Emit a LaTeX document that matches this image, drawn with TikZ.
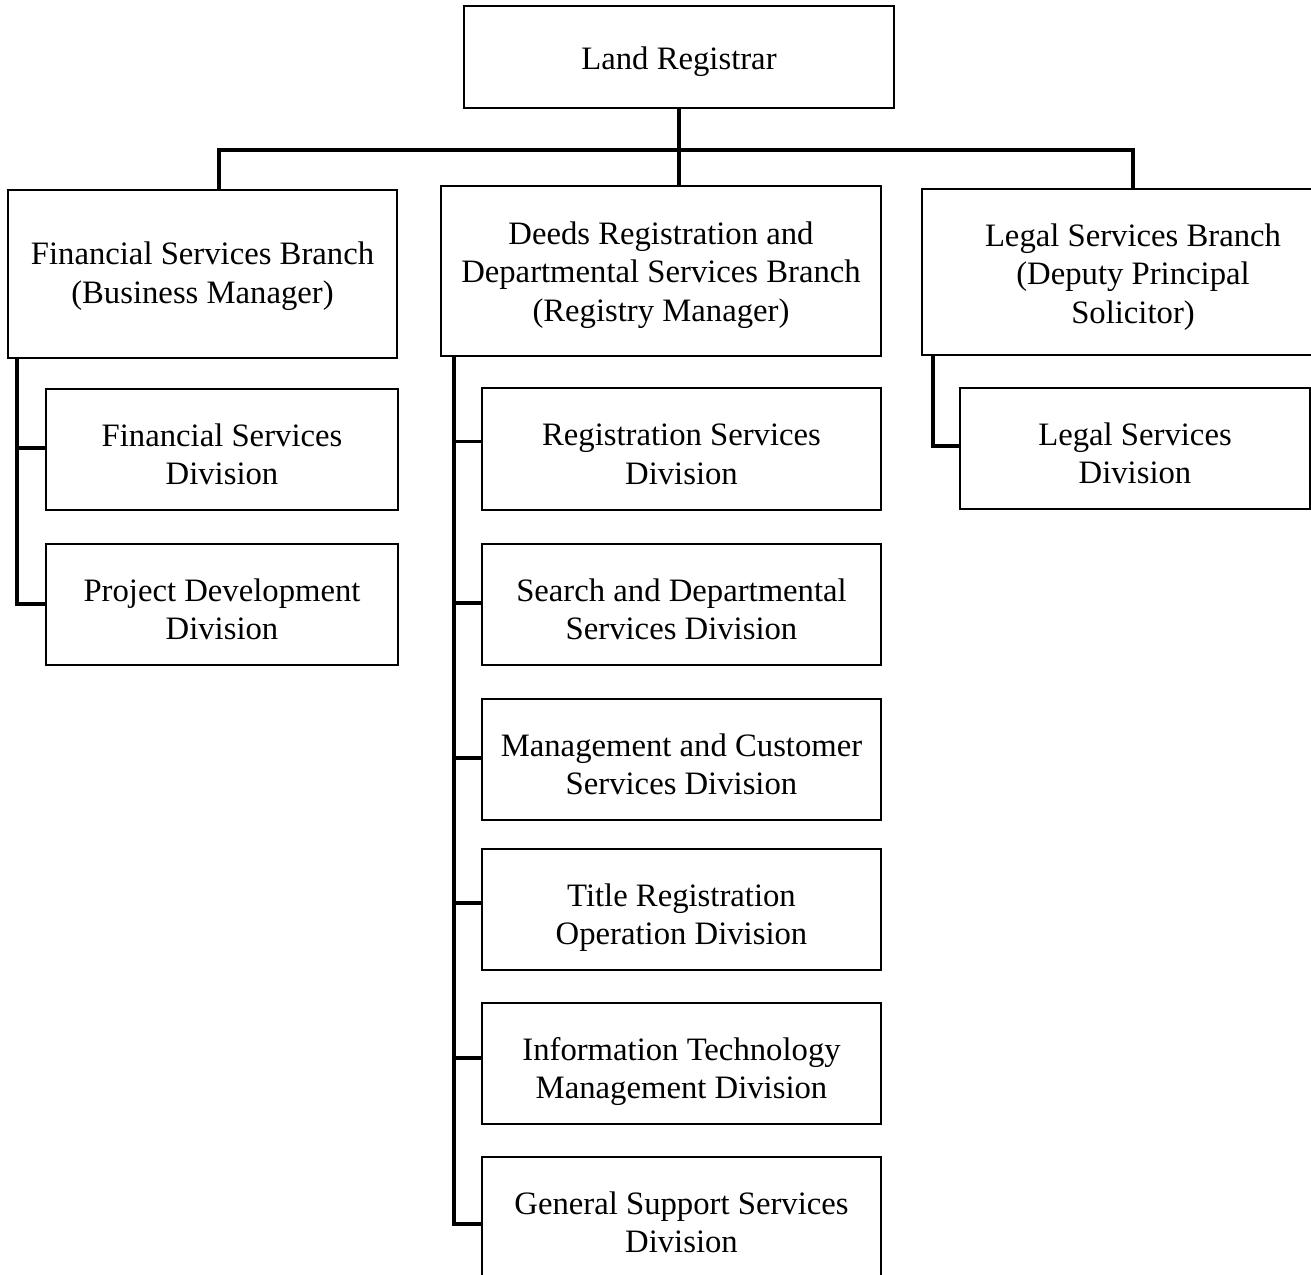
\documentclass[tikz,border=0pt]{standalone}
\usepackage{fontspec}
\setmainfont{Liberation Serif}
\newcommand{\bxt}[2]{\raisebox{-#1pt}[\height][\depth]{\begin{tabular}{@{}c@{}}#2\end{tabular}}}
\begin{document}
\begin{tikzpicture}[x=1pt,y=-1pt,
  box/.style={draw=black,line width=1.6pt,rectangle,align=center,inner sep=0pt,
    font=\fontsize{32.7}{38.5}\selectfont},
  conn/.style={draw=black,line width=3.6pt}]
\useasboundingbox (0,0) rectangle (1311,1274);
\clip (0,0) rectangle (1311,1274);
% top
\node[box,minimum width=430pt,minimum height=102pt] (lr) at (679,57) {\bxt{5}{Land Registrar}};
% branches
\node[box,minimum width=389pt,minimum height=168pt] (fb) at (202.5,274) {\bxt{2.5}{Financial Services Branch\\(Business Manager)}};
\node[box,minimum width=440pt,minimum height=170pt] (dr) at (661,271) {\bxt{4}{Deeds Registration and\\Departmental Services Branch\\(Registry Manager)}};
\node[box,minimum width=422pt,minimum height=166pt] (lb) at (1133,272) {\bxt{5}{Legal Services Branch\\(Deputy Principal\\Solicitor)}};
% financial divisions
\node[box,minimum width=352pt,minimum height=121pt] (fsd) at (222,449.5) {\bxt{8.5}{Financial Services\\Division}};
\node[box,minimum width=352pt,minimum height=121pt] (pdd) at (222,604.5) {\bxt{8.5}{Project Development\\Division}};
% deeds divisions
\node[box,minimum width=399pt,minimum height=122pt] (rsd) at (681.5,449) {\bxt{8.5}{Registration Services\\Division}};
\node[box,minimum width=399pt,minimum height=121pt] (sds) at (681.5,604.5) {\bxt{8.5}{Search and Departmental\\Services Division}};
\node[box,minimum width=399pt,minimum height=121pt] (mcs) at (681.5,759.5) {\bxt{8.5}{Management and Customer\\Services Division}};
\node[box,minimum width=399pt,minimum height=121pt] (tro) at (681.5,909.5) {\bxt{8.5}{Title Registration\\Operation Division}};
\node[box,minimum width=399pt,minimum height=121pt] (itm) at (681.5,1063.5) {\bxt{8.5}{Information Technology\\Management Division}};
\node[box,minimum width=399pt,minimum height=121pt] (gss) at (681.5,1217.5) {\bxt{8.5}{General Support Services\\Division}};
% legal division
\node[box,minimum width=350pt,minimum height=121pt] (lsd) at (1135,448.5) {\bxt{8.5}{Legal Services\\Division}};
% connectors
\coordinate (bus) at (679,150);
\draw[conn] (lr.south) -- (lr.south |- dr.north);
\draw[conn] ([xshift=16.5pt]fb.north) |- (bus) -| (lb.north);
% financial spine
\coordinate (fsp) at ([xshift=10pt]fb.south west);
\draw[conn] (fsp) |- ([yshift=0.5pt]pdd.west);
\draw[conn] ([yshift=1.5pt]fsd.west) -- ([yshift=1.5pt]fsd.west -| fsp);
% deeds spine
\coordinate (dsp) at ([xshift=14pt]dr.south west);
\draw[conn] (dsp) |- ([yshift=-6.5pt]gss.west);
\draw[conn] ([yshift=7.5pt]rsd.west) -- ([yshift=7.5pt]rsd.west -| dsp);
\draw[conn] ([yshift=1.5pt]sds.west) -- ([yshift=1.5pt]sds.west -| dsp);
\draw[conn] ([yshift=1.5pt]mcs.west) -- ([yshift=1.5pt]mcs.west -| dsp);
\draw[conn] ([yshift=6.5pt]tro.west) -- ([yshift=6.5pt]tro.west -| dsp);
\draw[conn] ([yshift=5.5pt]itm.west) -- ([yshift=5.5pt]itm.west -| dsp);
% legal spine
\coordinate (lsp) at ([xshift=12pt]lb.south west);
\draw[conn] (lsp) |- ([yshift=2.5pt]lsd.west);
\end{tikzpicture}
\end{document}
